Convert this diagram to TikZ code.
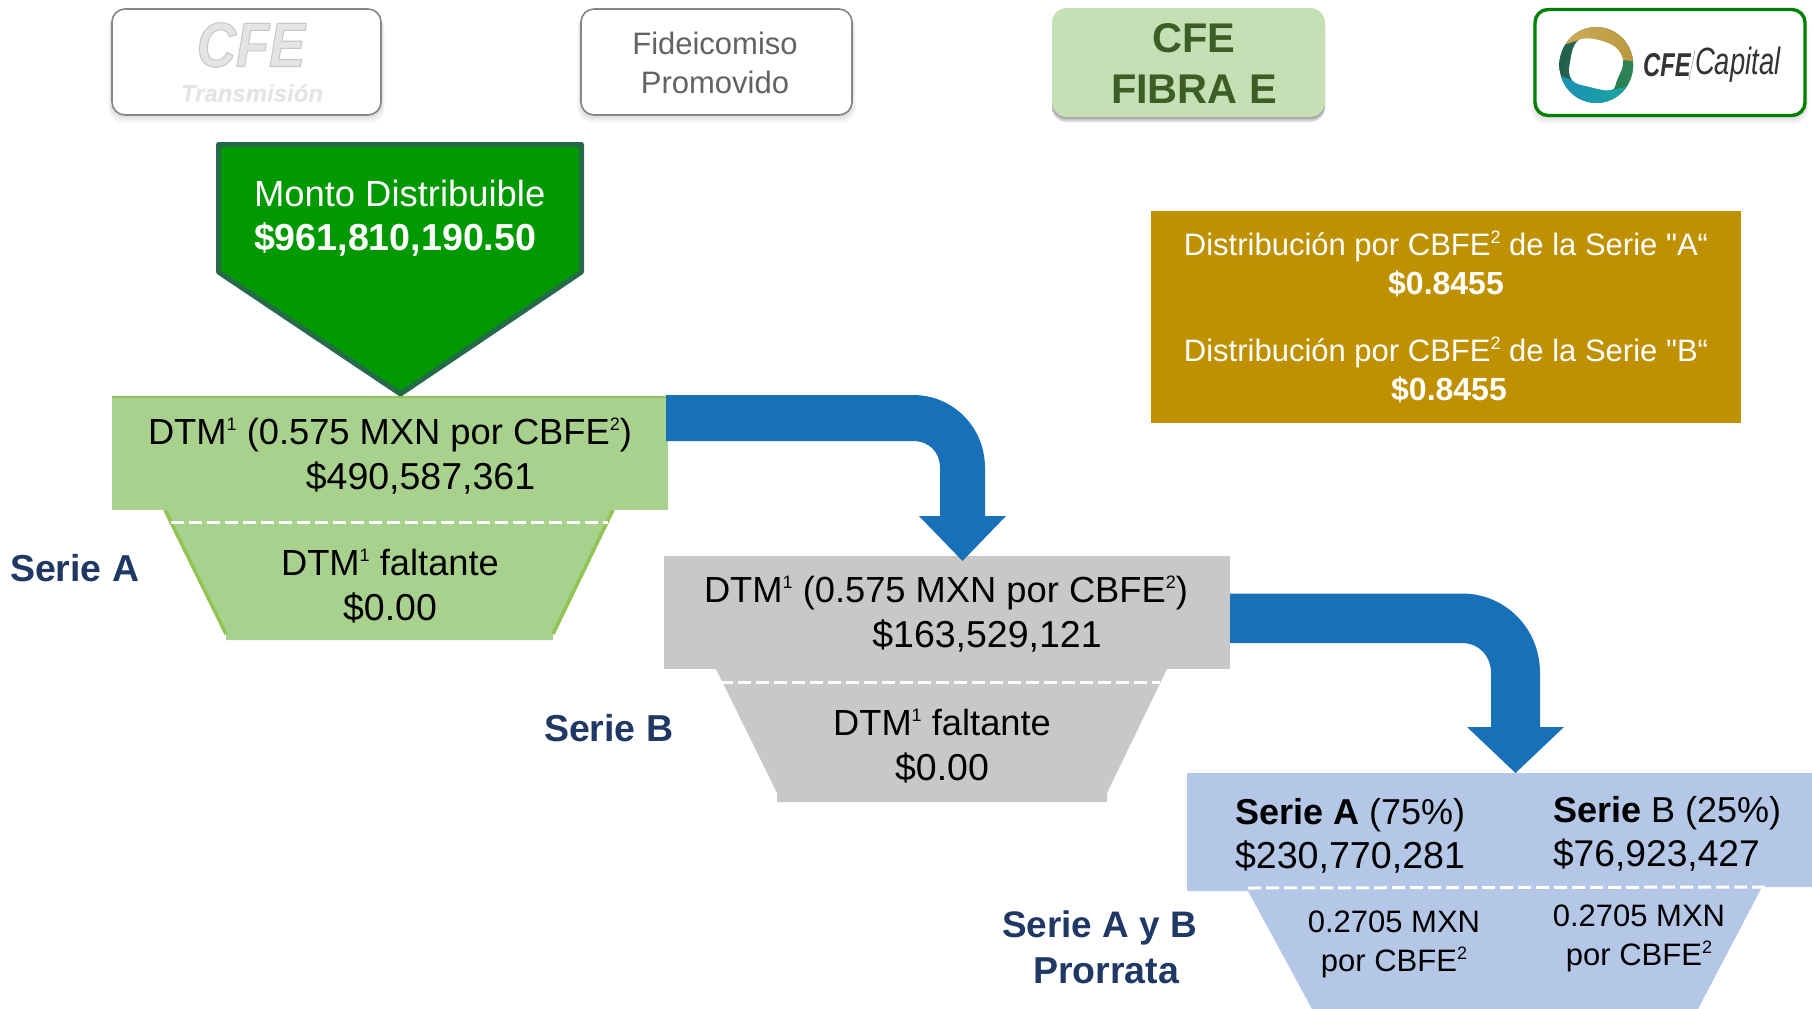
\documentclass[tikz,border=0pt]{standalone}
\usepackage{fontspec}
\setmainfont{Liberation Sans}
\newfontfamily\plainq{Liberation Sans}
\newfontfamily\cfelogo[FakeStretch=0.86,FakeBold=1.6]{Liberation Sans Bold Italic}
\newfontfamily\cfesmall[FakeBold=0.3]{Liberation Sans Bold Italic}
\newfontfamily\capfont[FakeStretch=0.72]{Liberation Sans Italic}
\usetikzlibrary{shapes.geometric}
\definecolor{pgreen}{HTML}{009900}
\definecolor{pborder}{HTML}{256B4A}
\definecolor{lgreen}{HTML}{A9D18E}
\definecolor{sgreen}{HTML}{92C353}
\definecolor{lgray}{HTML}{C8C8C8}
\definecolor{lblue}{HTML}{B4C7E7}
\definecolor{arrowblue}{HTML}{1770B8}
\definecolor{gold}{HTML}{BF9000}
\definecolor{navy}{HTML}{1F3864}
\definecolor{fibra}{HTML}{C5E0B4}
\definecolor{fibratxt}{HTML}{3B5D26}
\definecolor{midgray}{HTML}{636363}
\definecolor{logogray}{HTML}{E4E4E4}
\definecolor{ringgreenl}{HTML}{215C4B}
\definecolor{ringgreenr}{HTML}{2E8B57}
\definecolor{ringgoldl}{HTML}{D0AE5C}
\definecolor{ringgoldr}{HTML}{B8973E}
\definecolor{ringbluel}{HTML}{1E8FB8}
\definecolor{ringbluer}{HTML}{17A89B}
\newcommand{\fsz}[2]{\fontsize{#1}{#2}\selectfont}
\newcommand{\sups}[1]{\raisebox{0.38em}{\fsz{18}{18}#1}}
\tikzset{
  x=1pt,y=-1pt,
  softshadow/.style={fill=black,opacity=#1,draw=none,rounded corners=14},
  topbox/.style={draw=#1,fill=white,line width=1.6,rounded corners=13},
  txt/.style={inner sep=0,outer sep=0,align=center,text=black,font=\fsz{36.3}{45}},
  wtxt/.style={inner sep=0,outer sep=0,align=center,text=white},
  label/.style={inner sep=0,outer sep=0,anchor=west,align=left,text=navy,font=\fsz{37.5}{45}\bfseries},
  blockarrow/.style={fill=arrowblue,draw=none},
  dashline/.style={draw=white,line width=3,dash pattern=on 13 off 5},
  sideline/.style={draw=sgreen,line width=3.5}
}
\begin{document}
\begin{tikzpicture}
\useasboundingbox (0,0) rectangle (1812,1009);
% soft shadows of the header boxes
\foreach \bx/\by/\ex/\ey/\op in {112/9/381/115,581/9/852/115,1535/9/1805/116}{
  \foreach \d in {1,2,...,6}{
    \fill[softshadow=0.022] (\bx-\d*0.6,\by+\d) rectangle (\ex+\d*0.6,\ey+\d*1.3);
  }
}
\foreach \d in {1,2,...,6}{
  \fill[softshadow=0.07] (1052,8+\d) rectangle (1325,117+\d*0.9);
}
% header boxes
\draw[topbox=gray!95] (112,9) rectangle (381,115);
\draw[topbox=gray!95] (581,9) rectangle (852,115);
\fill[fibra,rounded corners=15] (1052,8) rectangle (1325,117);
\draw[topbox=green!50!black,line width=3.4] (1535,9.5) rectangle (1805,115.5);
% CFE Transmision logo
\node[inner sep=0] (cfelogo) at (251,45) {\cfelogo\fsz{63}{63}\color{logogray}\special{pdf:code 0.78 G}CFE};
\node[inner sep=0] (cfetrans) at (252,93) {\cfesmall\fsz{24}{24}\color{logogray}Transmisión};
\node[txt,text=midgray,font=\fsz{31}{39}] (fide) at (715,63) {Fideicomiso\\Promovido};
\node[txt,text=fibratxt,font=\fsz{41.5}{51}\bfseries] (fibrae) at (1194,63.5) {CFE\\FIBRA E};
% CFE Capital ring
\begin{scope}
  \clip (1596.3,65) ellipse (37 and 38);
  \shade[left color=ringgreenl,right color=ringgreenr] (1555,20) rectangle (1640,110);
  \shade[left color=ringgoldl,right color=ringgoldr]
     (1555,48) -- (1580,39.5) -- (1623,60) -- (1640,62) -- (1640,20) -- (1555,20) -- cycle;
  \shade[left color=ringbluel,right color=ringbluer]
     (1555,74) -- (1572,80) -- (1611,90) -- (1640,84) -- (1640,110) -- (1555,110) -- cycle;
  \fill[white] plot[smooth cycle,tension=0.65] coordinates {(1580,39.5) (1610,44) (1623,60) (1617,80) (1611,90) (1590,87) (1572,80) (1570,62)};
\end{scope}
\node[inner sep=0,anchor=west] (cfecap) at (1643,65) {\capfont\fsz{33}{33}\bfseries\color{black!80}CFE};
\draw[gray!70,line width=0.6] (1695,50) -- (1689,80);
\node[inner sep=0,anchor=west] (capital) at (1695,65) {\capfont\fsz{38}{38}\color{black!80}Capital};
% green funnel
\fill[lgreen] (164,510) -- (614,510) -- (553,632) -- (553,640) -- (226,640) -- (226,632) -- cycle;
\draw[sideline] (165,510) -- (226,634);
\draw[sideline] (613,510) -- (553,634);
\fill[lgreen] (112,396) rectangle (668,510);
\draw[sgreen,line width=2.4] (112,397) -- (668,397);
\draw[dashline] (171,522) -- (608,522);
% pentagon
\draw[fill=pgreen,draw=pborder,line width=5,line join=round] (218.5,144.5) -- (581.5,144.5) -- (581.5,272) -- (400.5,394) -- (218.5,272) -- cycle;
\node[wtxt,anchor=west,align=left,font=\fsz{36.4}{45}] (monto) at (254,218) {Monto Distribuible\\[-1pt]{\fsz{37.6}{45}\bfseries \$961,810,190.50}};
% gold
\fill[gold] (1151,211) rectangle (1741,423);
\node[wtxt,font=\fsz{31}{39}] (ga) at (1446,264) {Distribución por CBFE\sups{2} de la Serie {\plainq"}A“\\{\fsz{32}{39}\bfseries \$0.8455}};
\node[wtxt,font=\fsz{31}{39}] (gb) at (1446,370) {Distribución por CBFE\sups{2} de la Serie {\plainq"}B“\\\hspace*{6pt}{\fsz{32}{39}\bfseries \$0.8455}};
% gray funnel
\fill[lgray] (716,669) -- (1167,669) -- (1107,793) -- (1107,802) -- (777,802) -- (777,793) -- cycle;
\fill[lgray] (664,556) rectangle (1230,669);
\draw[dashline] (720,682) -- (1160,682);
% blue funnel
\fill[lblue] (1248,880) -- (1765,880) -- (1762,887) -- (1698,1009) -- (1312,1009) -- (1248,891) -- cycle;
\fill[lblue] (1187,773) -- (1812,773) -- (1812,887) -- (1400,887) -- (1400,891) -- (1187,891) -- cycle;
\draw[dashline] (1248,888) -- (1765,887);
% block arrows
\fill[blockarrow,line join=round] (666,395) -- (913,395) .. controls (953,395) and (985,427) .. (985,468)
  -- (985,516) -- (1006,516) -- (962.5,561) -- (919,516) -- (940,516) -- (940,468)
  .. controls (940,452) and (929,441) .. (913,441) -- (666,441) -- cycle;
\fill[blockarrow,line join=round] (1230,593.5) -- (1462,593.5) .. controls (1505,593.5) and (1540,628) .. (1540,673)
  -- (1540,727) -- (1564,727) -- (1515.5,773) -- (1467,727) -- (1491,727) -- (1491,673)
  .. controls (1491,656) and (1479,643) .. (1462,643) -- (1230,643) -- cycle;
% funnel texts
\node[txt] (dtma) at (390,456) {DTM\sups{1} (0.575 MXN por CBFE\sups{2})\\\hspace*{61pt}\fsz{37.5}{45}\$490,587,361};
\node[txt] (fala) at (390,586) {DTM\sups{1} faltante\\\fsz{37.5}{45}\$0.00};
\node[txt] (dtmb) at (946,614) {DTM\sups{1} (0.575 MXN por CBFE\sups{2})\\\hspace*{82pt}\fsz{37.5}{45}\$163,529,121};
\node[txt] (falb) at (942,746) {DTM\sups{1} faltante\\\fsz{37.5}{45}\$0.00};
\node[txt,anchor=west,align=left,font=\fsz{36}{44}] (sa) at (1235,835.5) {{\bfseries Serie A} (75\%)\\\fsz{37.6}{44}\$230,770,281};
\node[txt,anchor=west,align=left,font=\fsz{36}{44}] (sb) at (1553,833.5) {{\bfseries Serie} B (25\%)\\\fsz{37.2}{44}\$76,923,427};
\node[txt,font=\fsz{31}{39}] (pa) at (1394,944) {0.2705 MXN\\por CBFE\sups{2}};
\node[txt,font=\fsz{31}{39}] (pb) at (1639,938.5) {0.2705 MXN\\por CBFE\sups{2}};
% side labels
\node[label] (la) at (10,568) {Serie A};
\node[label] (lb) at (544,728) {Serie B};
\node[label,font=\fsz{36.9}{45}\bfseries] (lc) at (1002,928) {Serie A y B};
\node[label] (ld) at (1033,971) {Prorrata};
\end{tikzpicture}
\end{document}
